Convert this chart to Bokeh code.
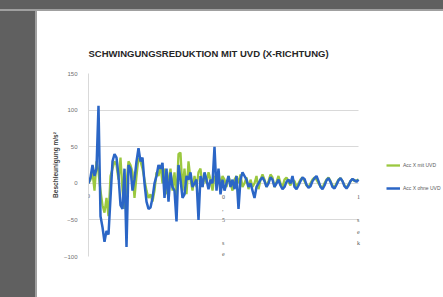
import numpy as np
from bokeh.plotting import figure
from bokeh.models import Range1d, Legend, LegendItem, LabelSet, ColumnDataSource, FixedTicker
from bokeh.embed import file_html
from bokeh.resources import INLINE

title_text = "SCHWINGUNGSREDUKTION MIT UVD (X-RICHTUNG)"
y_title = "Beschleunigung m/s²"
series_names = ["Acc X mit UVD", "Acc X ohne UVD"]
y_ticks = [-100, -50, 0, 50, 100, 150]
x_tick_labels = ["0", "0\n,\n5\n \ns\ne\nk", "1\n \ns\ne\nk"]

green = [0, 5, 15, -10, 30, 15, -10, -30, -40, -20, -45, 10, 20, 30, 25, 5, 35, -10, -35, 0,
         30, 25, 15, -20, 10, 35, 30, 20, 5, -10, -20, -15, -25, -10, 15, 10, 25, 0, 20, -15,
         5, 20, -10, 15, -20, 40, 42, -10, 20, -15, 30, 5, -10, 10, -5, 15, 20, -5, 10, 0,
         15, 5, -10, 10, 5, 15, -5, 10, 5, -5, 10, 0, -10, 5, 10, 0, 12, -5, 0, 8,
         -8, 5, -5, 0, 10, -8, 5, 12, 5, -5, 3, 12, 8, -5, 2, 10, 0, -5, 5, 8,
         2, -3, 5, 3, -5, 0, 5, 8, 3, -3, -5, 0, 5, 8, 5, 0, -4, -6, 0, 5,
         8, 3, -3, -6, 0, 5, 7, 3, -3, -6, -2, 3, 6, 3, 4, 5]

blue = [0, 8, 25, 10, 20, 106, -45, -60, -80, -65, -70, -20, 30, 40, 35, 10, -30, -35, 20, -87,
        25, 20, -10, 5, 30, 48, 30, 35, 0, -25, -35, -33, -20, 0, 10, 25, 20, 28, -20, 20,
        -25, 15, -5, -10, -52, 25, 5, -20, -15, 10, 5, 15, -5, 0, 5, -50, 10, -5, 15, 5,
        -8, 5, 0, 50, -10, 20, -15, 5, -10, 0, 10, -5, 5, -8, 10, -35, 5, 15, 10, 5,
        -5, 0, -10, -20, -5, 0, 5, 8, 3, -5, 0, 8, 5, -5, 0, 5, -3, -8, -5, 2,
        5, 0, 10, -5, -8, -3, 3, 8, 6, -2, -6, -4, 3, 7, 10, 3, -5, -8, -3, 4,
        7, 2, -5, -7, -2, 4, 7, 3, -4, -7, -3, 3, 6, 4, 2, 5]

n = len(blue)
x_tick_pos = [0, (n - 1) / 2, n - 1]

GREEN = "#9bc83f"
BLUE = "#2b66c6"

# plot area runs on to the page edge so that the legend at the right is inside it
x_end = (n - 1) * (443 - 88) / (358 - 88)

p = figure(width=443, height=297, output_backend="svg", toolbar_location=None,
           x_range=Range1d(0, x_end), y_range=Range1d(-100, 150),
           min_border_left=88, min_border_right=0, min_border_top=73, min_border_bottom=41,
           background_fill_color="white", border_fill_alpha=0)
p.outline_line_color = None
# photographed page: dark surround at the left and top edge
p.styles = {"background": (
    "linear-gradient(to bottom, #606060 9px, #a0a0a0 9px, #a0a0a0 11px, transparent 11px), "
    "linear-gradient(to right, #606060 35px, #a0a0a0 35px, #a0a0a0 37px, white 37px)")}

p.title.text = title_text
p.title.text_font = "Liberation Sans"
p.title.text_font_size = "9.5px"
p.title.text_font_style = "bold"
p.title.text_color = "#262626"
p.title.align = "left"
p.title.standoff = 30

p.xaxis.visible = False
p.xgrid.visible = False
yg = p.ygrid[0]
yg.ticker = FixedTicker(ticks=y_ticks)
yg.grid_line_color = "#d9d9d9"
if "cross_bounds" in yg.properties():
    yg.cross_bounds = (0, n - 1)
else:
    yg.visible = False
    p.segment(x0=[0] * len(y_ticks), x1=[n - 1] * len(y_ticks), y0=y_ticks, y1=y_ticks,
              line_color="#d9d9d9", line_width=1, level="underlay")

p.yaxis.ticker = FixedTicker(ticks=y_ticks)
p.yaxis.axis_line_color = "#d9d9d9"
p.yaxis.major_tick_line_color = None
p.yaxis.minor_tick_line_color = None
p.yaxis.major_label_text_font = "Liberation Sans"
p.yaxis.major_label_text_font_size = "6px"
p.yaxis.major_label_text_color = "#6f6f6f"
p.yaxis.major_label_standoff = 5
p.yaxis.axis_label = y_title
p.yaxis.axis_label_text_font = "Liberation Sans"
p.yaxis.axis_label_text_font_size = "6.5px"
p.yaxis.axis_label_text_font_style = "bold"
p.yaxis.axis_label_text_color = "#404040"
p.yaxis.axis_label_standoff = 2

xs = list(range(n))
g = p.line(list(range(len(green))), green, line_color=GREEN, line_width=2.3)
b = p.line(xs, blue, line_color=BLUE, line_width=2.5)

src = ColumnDataSource(dict(x=x_tick_pos, y=[0, 0, 0], t=x_tick_labels))
labels = LabelSet(x="x", y="y", text="t", source=src, text_align="center", text_baseline="top",
                  y_offset=-11, text_font_size="6px", text_color="#595959",
                  text_font="Liberation Sans", text_line_height=1.9)
p.add_layout(labels)

legend = Legend(items=[LegendItem(label=series_names[0], renderers=[g]),
                       LegendItem(label=series_names[1], renderers=[b])],
                location=(298, 63), padding=0, margin=0, spacing=13,
                glyph_width=14, glyph_height=10, label_height=10, label_standoff=3,
                label_text_font_size="5px", label_text_color="#595959",
                label_text_font="Liberation Sans",
                border_line_color=None, background_fill_alpha=0)
p.add_layout(legend)

open("out.html", "w").write(file_html(p, INLINE))
